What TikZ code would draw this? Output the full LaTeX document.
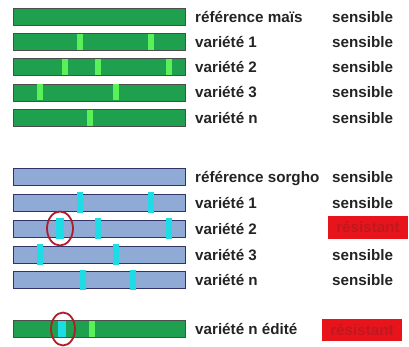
\documentclass[tikz,border=0pt]{standalone}
\usepackage{fontspec}
\setmainfont{Liberation Sans}
\definecolor{mgreen}{RGB}{30,160,78}
\definecolor{lgreen}{RGB}{90,240,90}
\definecolor{mblue}{RGB}{143,170,212}
\definecolor{mcyan}{RGB}{30,220,230}
\definecolor{bred}{RGB}{232,20,28}
\definecolor{dred}{RGB}{175,30,40}
\definecolor{txt}{RGB}{35,35,35}
\begin{document}
\begin{tikzpicture}[x=1pt,y=-1pt,
  bar/.style={draw=black!70, line width=0.8pt, minimum width=172pt, minimum height=17pt, inner sep=0pt, anchor=west},
  gbar/.style={bar, fill=mgreen},
  bbar/.style={bar, fill=mblue, draw=black!65!blue!60!gray},
  gmark/.style={fill=lgreen, draw=none, minimum width=5.5pt, minimum height=16pt, inner sep=0pt},
  cmark/.style={fill=mcyan, draw=none, minimum width=5.5pt, minimum height=20.5pt, inner sep=0pt},
  lbl/.style={anchor=base west, inner sep=0pt, text=txt, yshift=-5.5pt, font=\fontsize{15.2}{17}\selectfont\bfseries},
  redbox/.style={fill=bred, minimum width=80pt, minimum height=22pt, inner sep=0pt, text=dred!80!red, font=\fontsize{15.2}{17}\selectfont\bfseries},
  ring/.style={draw=dred, line width=1.8pt}]
\useasboundingbox (0,0) rectangle (409,347);
% maize
\node[gbar] (m0) at (13,17) {};
\node[gbar] (m1) at (13,42) {};
\node[gbar] (m2) at (13,67) {};
\node[gbar] (m3) at (13,92.5) {};
\node[gbar] (m4) at (13,118) {};
\node[gmark] at (80,42) {};
\node[gmark] at (151,42) {};
\node[gmark] at (65,67) {};
\node[gmark] at (98,67) {};
\node[gmark] at (169,67) {};
\node[gmark] at (40,92.5) {};
\node[gmark] at (116,92.5) {};
\node[gmark] at (90,118) {};
\node[lbl] (tm0) at (195,17) {référence maïs};
\node[lbl] (tm1) at (195,42) {variété 1};
\node[lbl] (tm2) at (195,67) {variété 2};
\node[lbl] (tm3) at (195,92.5) {variété 3};
\node[lbl] (tm4) at (195,118) {variété n};
\node[lbl] (sm0) at (332,17) {sensible};
\node[lbl] (sm1) at (332,42) {sensible};
\node[lbl] (sm2) at (332,67) {sensible};
\node[lbl] (sm3) at (332,92.5) {sensible};
\node[lbl] (sm4) at (332,118) {sensible};
% sorghum
\node[bbar] (s0) at (13,177) {};
\node[bbar] (s1) at (13,202.5) {};
\node[bbar] (s2) at (13,228.5) {};
\node[bbar] (s3) at (13,254.5) {};
\node[bbar] (s4) at (13,280) {};
\node[cmark] at (80,202.5) {};
\node[cmark] at (151,202.5) {};
\node[cmark, minimum width=8pt] at (60,228.5) {};
\node[cmark] at (98,228.5) {};
\node[cmark] at (169,228.5) {};
\node[cmark] at (40,254.5) {};
\node[cmark] at (116,254.5) {};
\node[cmark] at (83,280) {};
\node[cmark] at (133,280) {};
\draw[ring] (60,228.5) ellipse (13 and 17);
\node[lbl] (ts0) at (195,177) {référence sorgho};
\node[lbl] (ts1) at (195,202.5) {variété 1};
\node[lbl] (ts2) at (195,228.5) {variété 2};
\node[lbl] (ts3) at (195,254.5) {variété 3};
\node[lbl] (ts4) at (195,280) {variété n};
\node[lbl] (ss0) at (332,177) {sensible};
\node[lbl] (ss1) at (332,202.5) {sensible};
\node[redbox] (ss2) at (368,227.5) {résistant};
\node[lbl] (ss3) at (332,254.5) {sensible};
\node[lbl] (ss4) at (332,280) {sensible};
% edited
\node[gbar] (e0) at (13,329) {};
\node[cmark, minimum width=8pt, minimum height=16pt] at (62,329) {};
\node[gmark] at (92,329) {};
\draw[ring] (63,329) ellipse (12 and 16.5);
\node[lbl] (te0) at (195,329) {variété n édité};
\node[redbox] (se0) at (362,330) {résistant};
\end{tikzpicture}
\end{document}
